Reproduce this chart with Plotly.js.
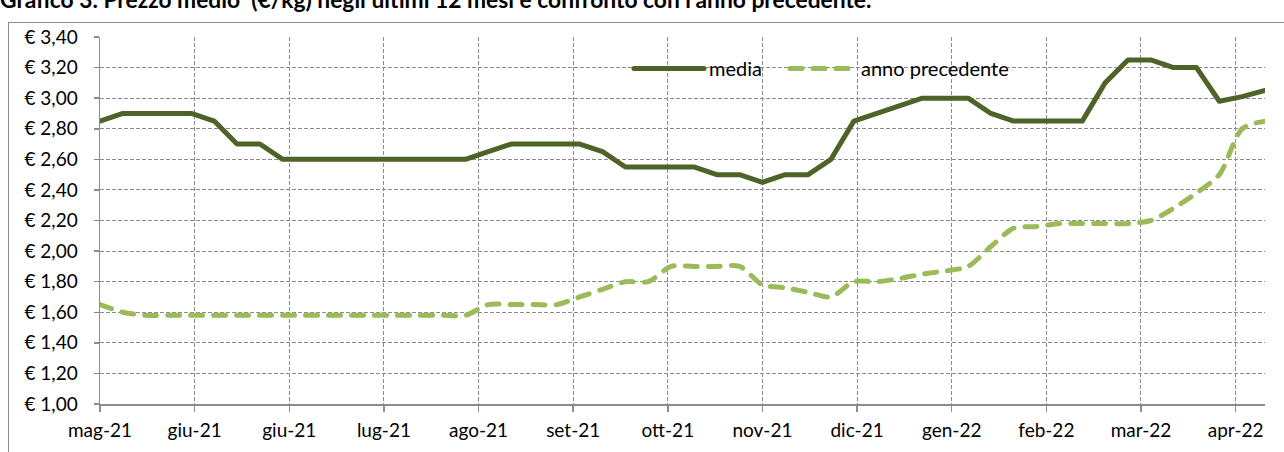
<!DOCTYPE html>
<html>
<head>
<meta charset="utf-8">
<script src="https://cdn.plot.ly/plotly-3.0.1.min.js"></script>
<style>
  html, body { margin: 0; padding: 0; background: #fff; }
  #wrap { position: relative; width: 1284px; height: 452px; overflow: hidden; }
  #chart { position: absolute; left: 0; top: 0; width: 1284px; height: 452px; }
  #frame { position: absolute; left: 8px; top: 22px; width: 1300px; height: 460px;
           border-left: 1px solid #8c8c8c; border-top: 1px solid #8c8c8c; pointer-events: none; }
  .js-line { stroke-linecap: round; stroke-linejoin: round; }
</style>
</head>
<body>
<div id="wrap">
  <div id="chart"></div>
  <div id="frame"></div>
</div>
<script>
// Weekly observation dates
const weeks = [
  "2021-05-03","2021-05-10","2021-05-17","2021-05-24","2021-05-31",
  "2021-06-07","2021-06-14","2021-06-21","2021-06-28",
  "2021-07-05","2021-07-12","2021-07-19","2021-07-26",
  "2021-08-02","2021-08-09","2021-08-16","2021-08-23","2021-08-30",
  "2021-09-06","2021-09-13","2021-09-20","2021-09-27",
  "2021-10-04","2021-10-11","2021-10-18","2021-10-25",
  "2021-11-01","2021-11-08","2021-11-15","2021-11-22","2021-11-29",
  "2021-12-06","2021-12-13","2021-12-20","2021-12-27",
  "2022-01-03","2022-01-10","2022-01-17","2022-01-24","2022-01-31",
  "2022-02-07","2022-02-14","2022-02-21","2022-02-28",
  "2022-03-07","2022-03-14","2022-03-21","2022-03-28",
  "2022-04-04","2022-04-11","2022-04-18","2022-04-25"
];

// Prezzo medio (€/kg)
const media = [
  2.85, 2.90, 2.90, 2.90, 2.90,
  2.85, 2.70, 2.70, 2.60,
  2.60, 2.60, 2.60, 2.60,
  2.60, 2.60, 2.60, 2.60, 2.65,
  2.70, 2.70, 2.70, 2.70,
  2.65, 2.55, 2.55, 2.55,
  2.55, 2.50, 2.50, 2.45, 2.50,
  2.50, 2.60, 2.85, 2.90,
  2.95, 3.00, 3.00, 3.00, 2.90,
  2.85, 2.85, 2.85, 2.85,
  3.10, 3.25, 3.25, 3.20,
  3.20, 2.98, 3.01, 3.05
];

// Anno precedente (€/kg)
const annoPrecedente = [
  1.65, 1.60, 1.58, 1.58, 1.58,
  1.58, 1.58, 1.58, 1.58,
  1.58, 1.58, 1.58, 1.58,
  1.58, 1.58, 1.58, 1.58, 1.65,
  1.65, 1.65, 1.65, 1.70,
  1.75, 1.80, 1.80, 1.90,
  1.90, 1.90, 1.90, 1.78, 1.76,
  1.73, 1.70, 1.80, 1.80,
  1.82, 1.85, 1.87, 1.90, 2.03,
  2.15, 2.16, 2.18, 2.18,
  2.18, 2.18, 2.20, 2.28,
  2.38, 2.50, 2.80, 2.85
];

// X tick positions and labels
const tickDates = [
  "2021-05-03","2021-06-01","2021-06-30","2021-07-29","2021-08-27",
  "2021-09-25","2021-10-24","2021-11-22","2021-12-21","2022-01-19",
  "2022-02-17","2022-03-18","2022-04-16"
];
const tickLabels = [
  "mag-21","giu-21","giu-21","lug-21","ago-21",
  "set-21","ott-21","nov-21","dic-21","gen-22",
  "feb-22","mar-22","apr-22"
];

const seriesNames = ["media", "anno precedente"];
const titleText = "Grafico 3. Prezzo medio  (€/kg) negli ultimi 12 mesi e confronto con l'anno precedente.";

const FONT = "Lato, 'Open Sans', sans-serif";
const GRID = "#8c8c8c";

const traces = [
  {
    x: weeks, y: media, name: seriesNames[0], type: "scatter", mode: "lines",
    line: { color: "#4F6228", width: 5 },
    legend: "legend",
    hoverinfo: "skip"
  },
  {
    x: weeks, y: annoPrecedente, name: seriesNames[1], type: "scatter", mode: "lines",
    line: { color: "#9BBB59", width: 5, dash: "12px,11px", shape: "spline", smoothing: 0.8 },
    legend: "legend2",
    hoverinfo: "skip"
  }
];

const legendFont = { family: FONT, size: 20, color: "#000" };

const layout = {
  width: 1284, height: 452,
  margin: { l: 100, r: 19, t: 37, b: 48, pad: 0 },
  paper_bgcolor: "#fff", plot_bgcolor: "#fff",
  separators: ",.",
  font: { family: FONT, size: 19, color: "#000" },
  title: {
    text: titleText,
    x: 0, xref: "container", xanchor: "left",
    y: 1, yref: "container", yanchor: "middle",
    pad: { l: 0, t: 0, b: 0, r: 0 },
    font: { family: FONT, size: 22.8, weight: "bold", color: "#000" }
  },
  showlegend: true,
  legend: {
    orientation: "h",
    x: 0.4541, xanchor: "left",
    y: 0.967, yanchor: "top",
    bgcolor: "rgba(255,255,255,0)",
    borderwidth: 0,
    font: legendFont,
    itemwidth: 70
  },
  legend2: {
    orientation: "h",
    x: 0.588, xanchor: "left",
    y: 0.967, yanchor: "top",
    bgcolor: "rgba(255,255,255,0)",
    borderwidth: 0,
    font: legendFont,
    itemwidth: 66
  },
  shapes: [
    { type: "rect", xref: "paper", yref: "paper",
      x0: 0.4361, x1: 0.7966, y0: 0.861, y1: 0.9918,
      fillcolor: "#fff", line: { width: 0 }, layer: "between" }
  ],
  xaxis: {
    type: "date",
    range: [weeks[0], weeks[weeks.length - 1]],
    tickmode: "array",
    tickvals: tickDates,
    ticktext: tickLabels,
    showgrid: true, gridcolor: GRID, gridwidth: 1, griddash: "4px,2px",
    showline: true, linecolor: GRID, linewidth: 1.5,
    ticks: "outside", ticklen: 6, tickcolor: GRID, tickwidth: 1.5,
    tickfont: { family: FONT, size: 19, color: "#000" },
    ticklabelstandoff: 3,
    zeroline: false, fixedrange: true
  },
  yaxis: {
    range: [1, 3.4],
    dtick: 0.2, tick0: 1,
    tickformat: ".2f", tickprefix: "€ ",
    showgrid: true, gridcolor: GRID, gridwidth: 1, griddash: "4px,2px",
    showline: true, linecolor: GRID, linewidth: 1.5,
    ticks: "outside", ticklen: 5, tickcolor: GRID, tickwidth: 1.5,
    tickfont: { family: FONT, size: 19, color: "#000" },
    ticklabelstandoff: 12,
    zeroline: false, fixedrange: true
  }
};

Plotly.newPlot("chart", traces, layout, { staticPlot: true, displayModeBar: false });
</script>
</body>
</html>
